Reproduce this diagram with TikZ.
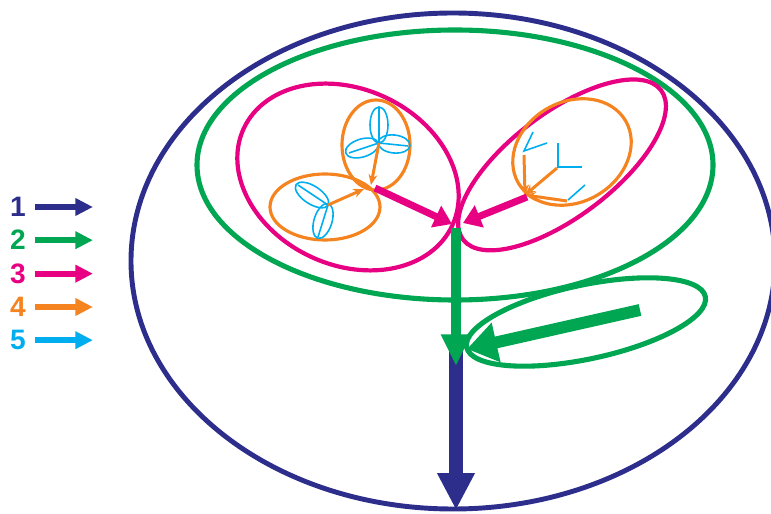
\documentclass[tikz,border=0pt]{standalone}
\usepackage{fontspec}
\setmainfont{Liberation Sans}
\usetikzlibrary{arrows.meta, positioning}
\definecolor{lvBlue}{RGB}{45,46,140}
\definecolor{lvGreen}{RGB}{0,166,81}
\definecolor{lvPink}{RGB}{232,0,130}
\definecolor{lvOrange}{RGB}{245,132,32}
\definecolor{lvCyan}{RGB}{0,174,239}
\tikzset{
  blueRing/.style={draw=lvBlue, line width=2.8pt},
  greenRing/.style={draw=lvGreen, line width=2.9pt},
  pinkRing/.style={draw=lvPink, line width=2.4pt},
  orangeRing/.style={draw=lvOrange, line width=1.8pt},
  lobe/.style={draw=lvCyan, line width=0.9pt},
  vein/.style={lvCyan, line width=0.9pt},
  twig/.style={-{Stealth[length=6pt,width=5pt]}, lvOrange, line width=1.7pt},
  pinkArr/.style={-{Triangle[length=10pt,width=13pt]}, lvPink, line width=4pt},
  keyNum/.style={font=\fontsize{16}{16}\selectfont\bfseries, inner sep=0pt},
  keyArr/.style={-{Triangle[length=10pt,width=9.5pt]}, line width=3.3pt},
}
\begin{document}
\begin{tikzpicture}[x=0.02cm, y=0.02cm]
\useasboundingbox (0,0) rectangle (771,514);

%% ── KEY ─────────────────────────────────────────────
\node[keyNum, text=lvBlue] (n1) at (18,307) {1};
\node[keyNum, text=lvGreen, below=0.26cm of n1] (n2) {2};
\node[keyNum, text=lvPink, below=0.26cm of n2] (n3) {3};
\node[keyNum, text=lvOrange, below=0.26cm of n3] (n4) {4};
\node[keyNum, text=lvCyan, below=0.26cm of n4] (n5) {5};
\draw[keyArr, lvBlue] ([xshift=5pt]n1.east) -- ++(58,0);
\draw[keyArr, lvGreen] ([xshift=5pt]n2.east) -- ++(58,0);
\draw[keyArr, lvPink] ([xshift=5pt]n3.east) -- ++(58,0);
\draw[keyArr, lvOrange] ([xshift=5pt]n4.east) -- ++(58,0);
\draw[keyArr, lvCyan] ([xshift=5pt]n5.east) -- ++(58,0);

%% ── OUTER RINGS ─────────────────────────────────────
\coordinate (whole) at (453,253);
\coordinate (crown) at (455,349);
\coordinate (lowLeaf) at (586,192);
\draw[blueRing] (whole) ellipse [x radius=322, y radius=248];
\draw[greenRing] (crown) ellipse [x radius=258, y radius=135];
\draw[greenRing, rotate around={12:(lowLeaf)}] (lowLeaf) ellipse [x radius=122, y radius=37];

%% ── LEAVES ──────────────────────────────────────────
\coordinate (leafL) at (348,337);
\coordinate (leafR) at (562,349);
\draw[pinkRing, rotate around={-25:(leafL)}] (leafL) ellipse [x radius=115, y radius=88];
\draw[pinkRing, rotate around={37:(leafR)}] (leafR) ellipse [x radius=124, y radius=52];

\coordinate (budT) at (376,369);
\coordinate (budL) at (325,307);
\coordinate (budR) at (572,362);
\draw[orangeRing] (budT) ellipse [x radius=34, y radius=45];
\draw[orangeRing] (budL) ellipse [x radius=55, y radius=33];
\draw[orangeRing, rotate around={30:(budR)}] (budR) ellipse [x radius=62, y radius=50];

%% top clover
\coordinate (hubT) at (379,371);
\draw[lobe] (379,389) ellipse [x radius=9, y radius=18];
\draw[lobe, rotate around={17:(362,366)}] (362,366) ellipse [x radius=17, y radius=9];
\draw[lobe, rotate around={-6:(394,370)}] (394,370) ellipse [x radius=16, y radius=9];
\draw[vein] (379,406) -- (hubT);
\draw[vein] (349,361) -- (hubT);
\draw[vein] (408,368) -- (hubT);

%% left clover
\coordinate (hubL) at (328,309);
\draw[lobe, rotate around={147:(312,319)}] (312,319) ellipse [x radius=19, y radius=9];
\draw[lobe, rotate around={73:(323,293)}] (323,293) ellipse [x radius=18, y radius=9];
\draw[vein] (298,329) -- (hubL);
\draw[vein] (318,277) -- (hubL);

\draw[twig] (hubT) -- (371,329);
\draw[twig] (hubL) -- (364,325);

%% right sprigs
\coordinate (hubR) at (525,319);
\draw[vein] (558,371) -- (558,347) -- (582,347);
\draw[vein] (533,382) -- (524,363) -- (547,371);
\draw[vein] (568,314) -- (585,329);
\draw[twig] (557,346) -- (hubR);
\draw[twig] (524,359) -- (hubR);
\draw[twig] (567,313) -- (hubR);

%% ── FLOW ────────────────────────────────────────────
\coordinate (fork) at (456,286);
\coordinate (knot) at (456,148);
\coordinate (root) at (456,4);
\draw[pinkArr] (375,326) -- (452,290);
\draw[pinkArr] (527,317) -- (463,291);
\draw[-{Triangle[length=21pt,width=20pt]}, lvBlue, line width=8.3pt]
  (456,165) -- (root);
\draw[-{Triangle[length=18pt,width=16pt]}, lvGreen, line width=5.8pt]
  (fork) -- (knot);
\draw[-{Triangle[length=17pt,width=22pt]}, lvGreen, line width=6.8pt]
  (640,204) -- (467,165);

\end{tikzpicture}
\end{document}
